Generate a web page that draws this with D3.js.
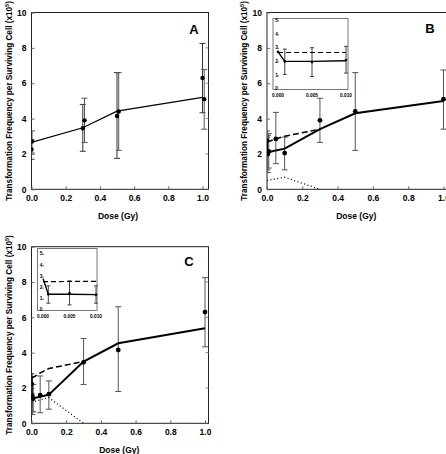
<!DOCTYPE html>
<html><head><meta charset="utf-8">
<script src="https://cdn.jsdelivr.net/npm/d3@7"></script>
<style>body{margin:0;background:#fff}svg{display:block}text{font-family:"Liberation Sans",Arial,sans-serif;font-weight:bold}</style>
</head><body>
<script>
// ---------- data ----------
const yTicks = [0, 2, 4, 6, 8, 10];
const xTicks = [0, 0.2, 0.4, 0.6, 0.8, 1.0];
const insetYTicks = [0, 1, 2, 3, 4, 5];
const insetXTicks = [0, 0.005, 0.01];

// Panel A: two experiments, slight dose offset
const doseA1 = [0, 0.3, 0.5, 1.0];
const valA1 = [2.25, 3.45, 4.15, 6.3];
const loA1 = [1.7, 2.15, 1.75, 4.33];
const hiA1 = [2.8, 4.8, 6.6, 8.25];
const doseA2 = [0.003, 0.31, 0.51, 1.01];
const valA2 = [2.7, 3.9, 4.4, 5.1];
const loA2 = [2.05, 2.65, 2.2, 3.4];
const hiA2 = [3.3, 5.15, 6.6, 6.78];
const lineDoseA = [0, 0.3, 0.5, 1.0];
const lineValA = [2.65, 3.48, 4.42, 5.2];

// Panel B
const doseB = [0, 0.001, 0.005, 0.01, 0.05, 0.1, 0.3, 0.5, 1.0];
const valB = [2.75, 2.05, 2.0, 2.15, 2.85, 2.05, 3.9, 4.4, 5.1];
const loB = [2.1, 1.1, 0.95, 1.2, 1.45, 1.1, 2.65, 2.2, 3.4];
const hiB = [3.3, 2.95, 3.05, 3.15, 4.35, 2.95, 5.15, 6.6, 6.75];
const solidDoseB = [0, 0.001, 0.005, 0.01, 0.05, 0.1, 0.3, 0.5, 1.0];
const solidValB = [2.75, 2.05, 2.05, 2.1, 2.2, 2.3, 3.4, 4.3, 5.0];
const dashDoseB = [0, 0.01, 0.05, 0.1, 0.3];
const dashValB = [2.7, 2.7, 2.85, 3.0, 3.4];
const dotDoseB = [0, 0.1, 0.3];
const dotValB = [0.5, 0.68, 0];

// Panel C
const doseC = [0, 0.001, 0.005, 0.01, 0.05, 0.1, 0.3, 0.5, 1.0];
const valC = [2.25, 1.45, 1.55, 1.4, 1.6, 1.65, 3.45, 4.15, 6.3];
const loC = [1.7, 0.65, 0.5, 0.65, 0.6, 0.8, 2.2, 1.8, 4.33];
const hiC = [2.8, 2.2, 2.65, 2.2, 2.68, 2.4, 4.8, 6.6, 8.25];
const solidDoseC = [0, 0.001, 0.005, 0.01, 0.05, 0.1, 0.3, 0.5, 1.0];
const solidValC = [2.85, 1.45, 1.45, 1.42, 1.5, 1.62, 3.5, 4.53, 5.38];
const dashDoseC = [0, 0.01, 0.05, 0.1, 0.3];
const dashValC = [2.58, 2.6, 2.85, 3.1, 3.5];
const dotDoseC = [0, 0.1, 0.3];
const dotValC = [1.2, 1.45, 0];

// ---------- drawing ----------
const svg = d3.select("body").append("svg").attr("width", 446).attr("height", 454);
const zip = (xs, ys) => xs.map((x, i) => [x, ys[i]]);

function errorBars(g, x, y, dose, lo, hi, color, cap) {
  dose.forEach((d, i) => {
    const cx = x(d);
    g.append("line").attr("x1", cx).attr("x2", cx).attr("y1", y(lo[i])).attr("y2", y(hi[i]))
      .attr("stroke", color).attr("stroke-width", 1);
    [lo[i], hi[i]].forEach(v => g.append("line").attr("x1", cx - cap).attr("x2", cx + cap)
      .attr("y1", y(v)).attr("y2", y(v)).attr("stroke", color).attr("stroke-width", 1));
  });
}
function points(g, x, y, dose, val, r) {
  g.selectAll(null).data(zip(dose, val)).enter().append("circle")
    .attr("cx", d => x(d[0])).attr("cy", d => y(d[1])).attr("r", r).attr("fill", "#000");
}
function path(g, x, y, dose, val, w, dash) {
  const line = d3.line().x(d => x(d[0])).y(d => y(d[1]));
  const p = g.append("path").attr("d", line(zip(dose, val))).attr("fill", "none")
    .attr("stroke", "#000").attr("stroke-width", w);
  if (dash) p.attr("stroke-dasharray", dash);
}

function panel(o) {
  const x = d3.scaleLinear().domain([0, 1]).range([o.left, o.x1]);
  const y = d3.scaleLinear().domain([0, 10]).range([o.bottom, o.top]);
  const g = svg.append("g");
  const clipId = "clip" + o.letter;
  svg.append("clipPath").attr("id", clipId).append("rect")
    .attr("x", o.left).attr("y", o.top).attr("width", o.right - o.left).attr("height", o.bottom - o.top);
  g.append("rect").attr("x", o.left).attr("y", o.top).attr("width", o.right - o.left)
    .attr("height", o.bottom - o.top).attr("fill", "none").attr("stroke", "#222").attr("stroke-width", 1);
  const ya = d3.axisLeft(y).tickValues(yTicks).tickSize(-3).tickPadding(5).tickFormat(d3.format("d"));
  const ay = g.append("g").attr("transform", `translate(${o.left},0)`).call(ya);
  const xa = d3.axisBottom(x).tickValues(xTicks).tickSize(-3).tickPadding(6).tickFormat(d3.format(".1f"));
  const ax = g.append("g").attr("transform", `translate(0,${o.bottom})`).call(xa);
  [ay, ax].forEach(a => {
    a.select(".domain").remove();
    a.selectAll("line").attr("stroke", "#666");
    a.selectAll("text").attr("font-size", 8.5).attr("fill", "#000")
      .attr("font-family", '"Liberation Sans",Arial,sans-serif').attr("font-weight", "bold");
  });
  g.selectAll(null).data(yTicks.slice(1, -1)).enter().append("line")
    .attr("x1", o.right).attr("x2", o.right - 3).attr("y1", d => y(d)).attr("y2", d => y(d))
    .attr("stroke", "#888");
  const cy = (o.top + o.bottom) / 2;
  const t = g.append("text").attr("transform", `translate(${o.left - 20},${cy}) rotate(-90)`)
    .attr("text-anchor", "middle").attr("font-size", 8.2);
  t.append("tspan").text("Transformation Frequency per Surviving Cell (x10");
  t.append("tspan").text("5").attr("font-size", 5.5).attr("dy", -3);
  t.append("tspan").text(")").attr("dy", 3);
  g.append("text").attr("x", (o.left + o.x1) / 2 + 1).attr("y", o.bottom + 30)
    .attr("text-anchor", "middle").attr("font-size", 8.5).text("Dose (Gy)");
  g.append("text").attr("x", o.lx).attr("y", o.ly).attr("text-anchor", "middle")
    .attr("font-size", 13).text(o.letter);
  const d = g.append("g").attr("clip-path", `url(#${clipId})`);
  return { x, y, g: d };
}

function inset(o) {
  const g = svg.append("g");
  g.append("rect").attr("x", o.bl).attr("y", o.bt).attr("width", o.br - o.bl).attr("height", o.bb - o.bt)
    .attr("fill", "#fff").attr("stroke", "#777").attr("stroke-width", 1);
  const x = d3.scaleLinear().domain([0, 0.01]).range([o.x0, o.x1]);
  const y = d3.scaleLinear().domain([0, 5]).range([o.y0, o.y5]);
  insetYTicks.forEach(v => {
    g.append("text").attr("x", o.bl + 3.5).attr("y", y(v) + 0.8).attr("text-anchor", "middle")
      .attr("font-size", 4.8).text(v);
    g.append("line").attr("x1", o.x0 - 1).attr("x2", o.x0 + 1).attr("y1", y(v)).attr("y2", y(v)).attr("stroke", "#777");
  });
  insetXTicks.forEach(v => {
    g.append("text").attr("x", x(v)).attr("y", o.bb + 7.5).attr("text-anchor", "middle")
      .attr("font-size", 4.8).text(d3.format(".3f")(v));
  });
  return { x, y, g };
}

// Panel A
{
  const p = panel({ letter: "A", left: 31.5, right: 208.5, x1: 202.5, top: 12.5, bottom: 189.3, lx: 194, ly: 34 });
  errorBars(p.g, p.x, p.y, doseA1, loA1, hiA1, "#333", 3);
  errorBars(p.g, p.x, p.y, doseA2, loA2, hiA2, "#555", 3);
  path(p.g, p.x, p.y, lineDoseA, lineValA, 1.2);
  points(p.g, p.x, p.y, doseA1, valA1, 2.2);
  points(p.g, p.x, p.y, doseA2, valA2, 2.2);
}
// Panel B
{
  const p = panel({ letter: "B", left: 267, right: 450, x1: 443.5, top: 12.5, bottom: 189.3, lx: 430, ly: 33 });
  errorBars(p.g, p.x, p.y, doseB, loB, hiB, "#555", 3);
  path(p.g, p.x, p.y, dotDoseB, dotValB, 1.3, "1,2.5");
  path(p.g, p.x, p.y, dashDoseB, dashValB, 1.5, "6,3");
  path(p.g, p.x, p.y, solidDoseB, solidValB, 2);
  points(p.g, p.x, p.y, doseB, valB, 2.4);
  const q = inset({ bl: 273, br: 348, bt: 18.5, bb: 89.5, x0: 278, x1: 346, y0: 89.5, y5: 21 });
  const ni = 4;
  errorBars(q.g, q.x, q.y, doseB.slice(1, ni), loB.slice(1, ni), hiB.slice(1, ni), "#444", 2);
  path(q.g, q.x, q.y, dashDoseB.slice(0, 2), dashValB.slice(0, 2), 1.2, "5,3");
  path(q.g, q.x, q.y, solidDoseB.slice(0, ni), solidValB.slice(0, ni), 1.3);
  points(q.g, q.x, q.y, doseB.slice(0, ni), valB.slice(0, ni), 1.3);
}
// Panel C
{
  const p = panel({ letter: "C", left: 31.5, right: 208.5, x1: 205, top: 246.7, bottom: 423.3, lx: 189, ly: 266 });
  errorBars(p.g, p.x, p.y, doseC, loC, hiC, "#555", 3);
  path(p.g, p.x, p.y, dotDoseC, dotValC, 1.3, "1,2.5");
  path(p.g, p.x, p.y, dashDoseC, dashValC, 1.5, "6,3");
  path(p.g, p.x, p.y, solidDoseC, solidValC, 2);
  points(p.g, p.x, p.y, doseC, valC, 2.4);
  const q = inset({ bl: 37.5, br: 97, bt: 248.5, bb: 310.5, x0: 43, x1: 96, y0: 310.5, y5: 254.5 });
  const ni = 4;
  errorBars(q.g, q.x, q.y, doseC.slice(1, ni), loC.slice(1, ni), hiC.slice(1, ni), "#444", 2);
  path(q.g, q.x, q.y, dashDoseC.slice(0, 2), dashValC.slice(0, 2), 1.2, "5,3");
  path(q.g, q.x, q.y, solidDoseC.slice(0, ni), solidValC.slice(0, ni), 1.3);
  points(q.g, q.x, q.y, doseC.slice(1, ni), valC.slice(1, ni), 1.3);
}
</script>
</body></html>
